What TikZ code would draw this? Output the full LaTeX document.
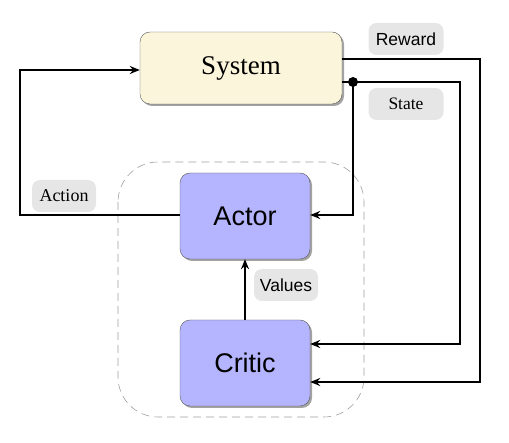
\documentclass[tikz,border=0pt]{standalone}
\usepackage{fontspec}
\setmainfont{Liberation Serif}
\setsansfont{Liberation Sans}
\usetikzlibrary{shadows,arrows.meta}
\definecolor{sysfill}{HTML}{FBF5DC}
\definecolor{acfill}{HTML}{B5B5FF}
\definecolor{lblfill}{HTML}{E6E6E6}
\begin{document}
\begin{tikzpicture}[x=1pt,y=-1pt,
  box/.style={draw=gray!70!black, line width=0.4pt, rounded corners=10pt,
    drop shadow={shadow xshift=2pt, shadow yshift=-2pt, opacity=0.6, fill=gray!80!black}},
  sysbox/.style={box, fill=sysfill, minimum width=202pt, minimum height=72pt,
    font=\fontsize{27}{30}\selectfont},
  acbox/.style={box, fill=acfill, minimum width=130pt, minimum height=86pt,
    font=\sffamily\fontsize{27}{30}\selectfont},
  lbl/.style={fill=lblfill, rounded corners=8pt, inner sep=0pt,
    minimum height=32pt},
  conn/.style={line width=2pt, -{Stealth[length=10pt,width=8pt]}},
]
\useasboundingbox (0,0) rectangle (509,443);
\draw[gray!75, dash pattern=on 8pt off 5pt, line width=0.6pt, rounded corners=40pt]
  (118,162) rectangle (364,417);
\node[sysbox] (sys) at (241,68) {System};
\node[acbox] (actor) at (245,216) {Actor};
\node[acbox] (critic) at (245,363) {Critic};

\node[lbl, minimum width=75pt, font=\sffamily\fontsize{17.5}{18}\selectfont] (lreward) at (406,39) {Reward};
\node[lbl, minimum width=75pt, font=\fontsize{17.5}{18}\selectfont] (lstate) at (406,104) {State};
\node[lbl, minimum width=64pt, font=\fontsize{18}{18}\selectfont] (laction) at (64,196) {Action};
\node[lbl, minimum width=64pt, font=\sffamily\fontsize{17.5}{18}\selectfont] (lvalues) at (286,285) {Values};

\coordinate (dot) at (353,82);
\coordinate (sysR1) at (sys.east |- 0,59);
\coordinate (sysR2) at (sys.east |- dot);
\coordinate (rA) at (480,59);
\coordinate (rB) at (480,382);
\coordinate (sA) at (460,82);
\coordinate (sB) at (460,344);
\coordinate (dA) at (353,215);
\coordinate (aA) at (20,215);
\coordinate (aB) at (20,70);

\draw[conn] (sysR1) -- (rA) -- (rB) -- (critic.east |- rB);
\draw[conn] (sysR2) -- (sA) -- (sB) -- (critic.east |- sB);
\draw[conn] (dot) -- (dA) -- (actor.east |- dA);
\fill (dot) circle (5pt);
\draw[conn] (actor.west |- aA) -- (aA) -- (aB) -- (sys.west |- aB);
\draw[conn] (critic.north) -- (actor.south);
\end{tikzpicture}
\end{document}
